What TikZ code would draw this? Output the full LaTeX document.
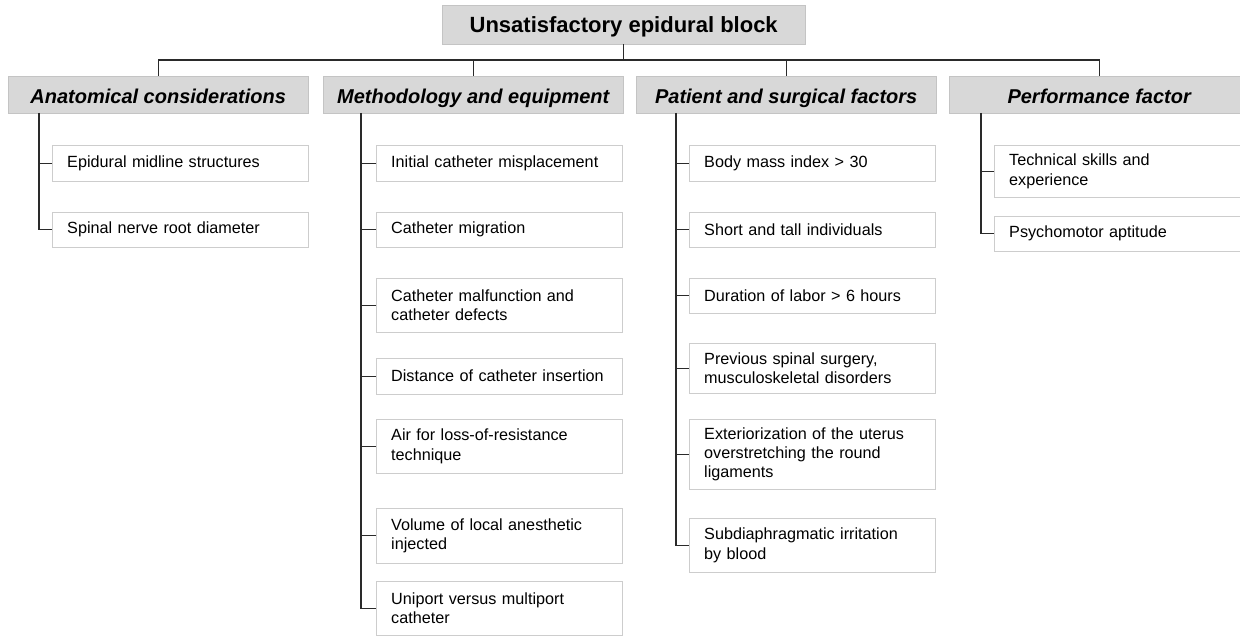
\documentclass[tikz,border=0pt]{standalone}
\usepackage{fontspec}
\setmainfont{Liberation Sans}
\hyphenpenalty=10000
\definecolor{headfill}{HTML}{D8D8D8}
\definecolor{headline}{HTML}{C4C4C4}
\definecolor{leafline}{HTML}{CDCDCD}
\definecolor{linkcol}{HTML}{2A2A2A}
\tikzset{
  topbox/.style={draw=headline, fill=headfill, anchor=north west, inner sep=0pt,
    minimum width=363pt, minimum height=39pt, text height=15.8pt, text depth=0pt,
    font=\fontsize{22}{26}\selectfont\bfseries},
  catbox/.style={draw=headline, fill=headfill, anchor=north west, inner sep=0pt,
    minimum width=300pt, minimum height=37pt, text height=18.5pt, text depth=0pt,
    font=\fontsize{20}{23}\selectfont\bfseries\itshape},
  leafbox/.style={draw=leafline, fill=white, anchor=north west, inner xsep=15pt, inner ysep=0pt,
    text width=#1, align=left, font=\fontsize{16.2}{19.3}\selectfont},
  link/.style={draw=linkcol, line width=1.2pt}
}
\begin{document}
\begin{tikzpicture}[x=1pt, y=-1pt]
        \useasboundingbox (0,0) rectangle (1240,636);

        % 1. Root and the four groups
        \node[topbox] (root) at (442,5) {Unsatisfactory epidural block};
        \node[catbox] (anat) at (8,76) {Anatomical considerations};
        \node[catbox] (meth) at (323,76) {Methodology and equipment};
        \node[catbox] (pat) at (636,76) {Patient and surgical factors};
        \node[catbox] (perf) at (949,76) {Performance factor};

        % 2. Horizontal bar joining root and groups
        \coordinate (bar) at (0,60);
        \draw[link] (root.south) -- (root.south |- bar);
        \draw[link] (anat.north) -- (anat.north |- bar) -- (perf.north |- bar) -- (perf.north);
        \draw[link] (meth.north) -- (meth.north |- bar);
        \draw[link] (pat.north) -- (pat.north |- bar);

        % 3. Anatomical considerations
        \node[leafbox=226pt, minimum height=36pt] (anat1) at (52,145) {Epidural midline structures};
        \node[leafbox=226pt, minimum height=35pt] (anat2) at (52,212) {Spinal nerve root diameter};
        \coordinate (anatV) at (39,113);
        \draw[link] (anatV) |- (anat2.west);
        \draw[link] (anat1.west) -- (anat1.west -| anatV);

        % 4. Methodology and equipment
        \node[leafbox=216pt, minimum height=36pt] (meth1) at (376,145) {Initial catheter misplacement};
        \node[leafbox=216pt, minimum height=35pt] (meth2) at (376,212) {Catheter migration};
        \node[leafbox=216pt, minimum height=54pt] (meth3) at (376,278) {Catheter malfunction and\\catheter defects};
        \node[leafbox=216pt, minimum height=36pt] (meth4) at (376,358) {Distance of catheter insertion};
        \node[leafbox=216pt, minimum height=54pt] (meth5) at (376,419) {Air for loss-of-resistance\\technique};
        \node[leafbox=216pt, minimum height=55pt] (meth6) at (376,508) {Volume of local anesthetic\\injected};
        \node[leafbox=216pt, minimum height=54pt] (meth7) at (376,581) {Uniport versus multiport\\catheter};
        \coordinate (methV) at (361,113);
        \draw[link] (methV) |- (meth7.west);
        \foreach \n in {1,...,6}
          \draw[link] (meth\n.west) -- (meth\n.west -| methV);

        % 5. Patient and surgical factors
        \node[leafbox=216pt, minimum height=36pt] (pat1) at (689,145) {Body mass index > 30};
        \node[leafbox=216pt, minimum height=35pt] (pat2) at (689,212) {Short and tall individuals};
        \node[leafbox=216pt, minimum height=35pt] (pat3) at (689,278) {Duration of labor > 6 hours};
        \node[leafbox=216pt, minimum height=50pt] (pat4) at (689,343) {Previous spinal surgery,\\musculoskeletal disorders};
        \node[leafbox=216pt, minimum height=70pt] (pat5) at (689,419) {Exteriorization of the uterus\\overstretching the round\\ligaments};
        \node[leafbox=216pt, minimum height=54pt] (pat6) at (689,518) {Subdiaphragmatic irritation\\by blood};
        \coordinate (patV) at (676,113);
        \draw[link] (patV) |- (pat6.west);
        \foreach \n in {1,...,5}
          \draw[link] (pat\n.west) -- (pat\n.west -| patV);

        % 6. Performance factor
        \node[leafbox=225pt, minimum height=52pt] (perf1) at (994,145) {Technical skills and\\experience};
        \node[leafbox=225pt, minimum height=35pt] (perf2) at (994,216) {Psychomotor aptitude};
        \coordinate (perfV) at (981,113);
        \draw[link] (perfV) |- (perf2.west);
        \draw[link] (perf1.west) -- (perf1.west -| perfV);

    \end{tikzpicture}
\end{document}
